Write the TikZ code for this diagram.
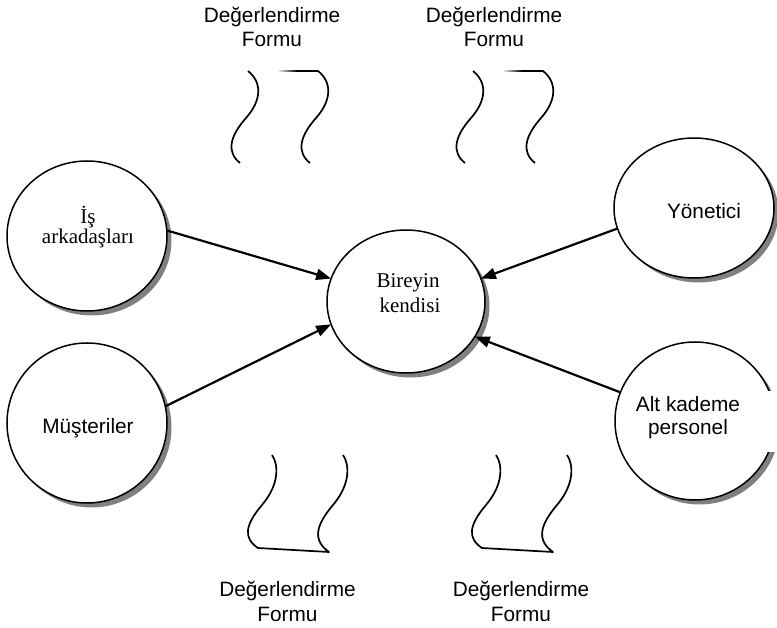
\documentclass[tikz,border=0pt]{standalone}
\usepackage{fontspec}
\setmainfont{Liberation Serif}
\newfontfamily\arialf{Liberation Sans}
\usetikzlibrary{arrows.meta,shapes.geometric}
\definecolor{shd}{HTML}{808080}
\begin{document}
\begin{tikzpicture}[x=1pt,y=-1pt,
  bubble/.style={ellipse, draw=black, line width=1.5pt, fill=white, inner sep=0pt, outer sep=0pt},
  sanstxt/.style={font=\arialf\fontsize{20.8}{24}\selectfont, inner sep=0pt, anchor=base},
  seriftxt/.style={font=\fontsize{21}{25}\selectfont, inner sep=0pt, anchor=base},
  tape/.style={draw=black, line width=1.7pt, line join=round},
  arrowline/.style={line width=2.2pt, -{Triangle[length=15pt,width=11pt]}}]
\useasboundingbox (0,0) rectangle (777,628);
% shadows
\fill[shd] (91.5,240.5) ellipse [x radius=80pt, y radius=75pt];
\fill[shd] (91.5,427.5) ellipse [x radius=80pt, y radius=80pt];
\fill[shd] (410.5,306) ellipse [x radius=79pt, y radius=71.5pt];
\fill[shd] (698.5,212.5) ellipse [x radius=80pt, y radius=70pt];
\fill[shd] (699.5,425.5) ellipse [x radius=80pt, y radius=79pt];
% ellipses
\node[bubble, minimum width=160pt, minimum height=150pt] (is) at (87,236) {};
\node[bubble, minimum width=160pt, minimum height=160pt] (mus) at (87,423) {};
\node[bubble, minimum width=158pt, minimum height=143pt] (ctr) at (406,301.5) {};
\node[bubble, minimum width=160pt, minimum height=140pt] (yon) at (694,208) {};
\node[bubble, minimum width=160pt, minimum height=158pt] (alt) at (695,421) {};
\fill[white] (765,391) rectangle (777,452);
% texts
\node[seriftxt] (t1a) at (88,224) {İş};
\node[seriftxt] (t1b) at (88,244) {arkadaşları};
\node[sanstxt] (t2) at (88,433) {Müşteriler};
\node[seriftxt] (t3a) at (408,288) {Bireyin};
\node[seriftxt] (t3b) at (410,313) {kendisi};
\node[sanstxt] (t4) at (704,219) {Yönetici};
\node[sanstxt] (t5a) at (688,412) {Alt kademe};
\node[sanstxt] (t5b) at (688,435) {personel};
% arrows
\draw[arrowline] (is.4) -- (ctr.163);
\draw[arrowline] (mus.12) -- (ctr.197);
\draw[arrowline] (yon.195) -- (ctr.17);
\draw[arrowline] (alt.159) -- (ctr.333);
% top forms
\foreach \dx in {0,225}{
\begin{scope}[shift={(\dx,0)}]
\draw[tape] (240,163) .. controls (226,152) and (230,136) .. (246,118) .. controls (262,100) and (262,82) .. (248,71);
\draw[tape] (310,163) .. controls (296,152) and (300,136) .. (316,118) .. controls (332,100) and (332,82) .. (318,71) -- (297,71);
\shade[left color=white, right color=black] (277,70.2) rectangle (297,71.8);
\end{scope}}
% bottom forms
\foreach \dx in {0,224}{
\begin{scope}[shift={(\dx,0)}]
\draw[tape] (272,455) .. controls (279,465) and (279,485) .. (262,505) .. controls (245,525) and (243,538) .. (258,548) -- (329,552) .. controls (312,540) and (316,525) .. (333,505) .. controls (350,485) and (350,465) .. (343,455);
\end{scope}}
% labels
\node[sanstxt] (f1a) at (272,23) {Değerlendirme};
\node[sanstxt] (f1b) at (272,47) {Formu};
\node[sanstxt] (f2a) at (494,23) {Değerlendirme};
\node[sanstxt] (f2b) at (494,47) {Formu};
\node[sanstxt] (f3a) at (287.5,596) {Değerlendirme};
\node[sanstxt] (f3b) at (287.5,621) {Formu};
\node[sanstxt] (f4a) at (521,596) {Değerlendirme};
\node[sanstxt] (f4b) at (521,621) {Formu};
\end{tikzpicture}
\end{document}
